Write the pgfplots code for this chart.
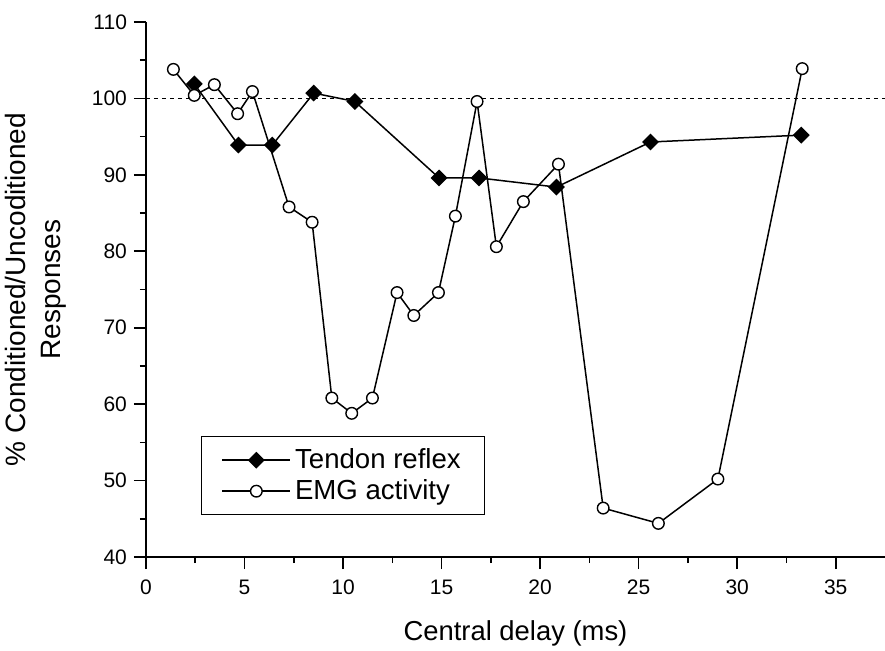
\documentclass[border=0pt]{standalone}
\usepackage{fontspec}
\setmainfont{Liberation Sans}
\usepackage{pgfplots}
\pgfplotsset{compat=1.18}

% Tendon reflex (diamonds)
\pgfplotstableread{
x y
2.45 101.9
4.69 93.9
6.41 93.9
8.51 100.7
10.6 99.6
14.87 89.6
16.9 89.6
20.83 88.4
25.6 94.3
33.25 95.2
}\tendon

% EMG activity (open circles)
\pgfplotstableread{
x y
1.39 103.8
2.45 100.4
3.47 101.8
4.65 98.0
5.40 100.9
7.26 85.8
8.43 83.8
9.43 60.8
10.44 58.8
11.49 60.8
12.74 74.6
13.59 71.6
14.84 74.6
15.70 84.6
16.80 99.6
17.78 80.6
19.15 86.5
20.93 91.4
23.20 46.4
26.00 44.4
29.02 50.2
33.30 103.9
}\emg

\begin{document}
\begin{tikzpicture}
\begin{axis}[
  scale only axis,
  width=369.5pt, height=267.5pt,
  xmin=0, xmax=37.5, ymin=40, ymax=110,
  axis lines=left,
  axis line style={-, line width=1pt},
  xtick={0,5,...,35}, ytick={40,50,...,110},
  minor x tick num=1, minor y tick num=1,
  tick align=outside,
  major tick length=6pt, minor tick length=3pt,
  tick style={line width=0.8pt, black},
  /pgf/number format/assume math mode=true,
  ticklabel style={font=\fontsize{10.5}{12}\selectfont},
  xticklabel style={yshift=-2pt},
  xlabel={Central delay (ms)},
  ylabel={\% Conditioned/Uncoditioned\\Responses},
  xlabel style={font=\fontsize{13.7}{16}\selectfont, yshift=-6pt},
  ylabel style={font=\fontsize{14}{17.5}\selectfont, align=center, yshift=6pt},
  legend style={
    at={(rel axis cs:0.0744,0.226)}, anchor=north west,
    draw=black, line width=0.6pt,
    font=\fontsize{13.8}{16}\selectfont,
    inner xsep=10pt, inner ysep=4pt,
    row sep=0pt,
    nodes={xshift=1.5pt},
  },
  legend cell align=left,
  legend image code/.code={
    \draw[#1, mark repeat=2, mark phase=2] plot coordinates {(0pt,0pt) (17pt,0pt) (34pt,0pt)};
  },
  clip=false,
]
\addplot[black, line width=0.45pt, dash pattern=on 2pt off 2pt, forget plot] coordinates {(0,100) (37.5,100)};
\addplot[black, line width=0.75pt, mark=square*, mark size=2.6pt,
  mark options={rotate=45, solid, fill=black}] table[x=x,y=y] {\tendon};
\addlegendentry{Tendon reflex}
\addplot[black, line width=0.75pt, mark=*, mark size=2.9pt,
  mark options={solid, fill=white, line width=0.7pt}] table[x=x,y=y] {\emg};
\addlegendentry{EMG activity}
\end{axis}
\pgfresetboundingbox
\path (current axis.south west) ++(-73pt,-46.5pt) rectangle ++(442.5pt,325pt);
\end{tikzpicture}
\end{document}
